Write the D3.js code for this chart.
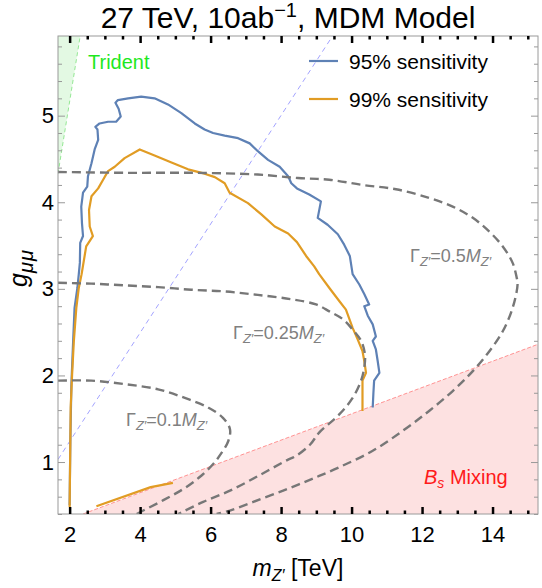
<!DOCTYPE html>
<html>
<head>
<meta charset="utf-8">
<script src="https://cdn.jsdelivr.net/npm/d3@7"></script>
<style>
  body { margin: 0; background: #fff; }
  svg { font-family: "Liberation Sans", Arial, sans-serif; }
</style>
</head>
<body>
<div id="chart"></div>
<script>
// tick values
const xMajorTicks = [2, 4, 6, 8, 10, 12, 14];
const yMajorTicks = [1, 2, 3, 4, 5];

// sensitivity contours [m_Z' (TeV), g_mumu]
const sens95 = [[2.00,0.50],[2.02,1.24],[2.05,1.90],[2.10,2.40],[2.14,2.78],[2.22,3.01],[2.26,3.17],[2.29,3.30],[2.30,3.53],[2.38,3.61],[2.35,3.76],[2.33,3.95],[2.38,4.11],[2.50,4.18],[2.52,4.30],[2.62,4.45],[2.71,4.61],[2.81,4.72],[2.79,4.84],[2.73,4.87],[2.85,4.91],[3.09,4.93],[3.32,4.93],[3.45,4.99],[3.39,5.08],[3.30,5.15],[3.37,5.18],[3.66,5.20],[4.03,5.22],[4.41,5.20],[4.79,5.13],[5.17,5.03],[5.55,4.91],[5.83,4.84],[6.07,4.80],[6.40,4.77],[6.78,4.74],[7.11,4.68],[7.34,4.59],[7.63,4.49],[7.96,4.41],[8.20,4.30],[8.29,4.22],[8.45,4.16],[8.80,4.09],[9.13,4.01],[9.04,3.82],[9.32,3.74],[9.61,3.63],[9.79,3.51],[9.95,3.38],[10.03,3.17],[10.22,3.05],[10.36,2.94],[10.50,2.82],[10.36,2.80],[10.46,2.69],[10.60,2.59],[10.69,2.45],[10.60,2.40],[10.69,2.30],[10.74,2.17],[10.79,2.03],[10.64,1.94],[10.62,1.80],[10.60,1.63]];
const sens99 = [[2.00,0.48],[2.03,1.63],[2.07,2.01],[2.12,2.40],[2.19,2.78],[2.26,3.01],[2.34,3.17],[2.47,3.49],[2.66,3.61],[2.57,3.72],[2.55,3.91],[2.62,4.07],[2.81,4.16],[2.95,4.26],[3.09,4.36],[3.28,4.41],[3.56,4.51],[3.99,4.61],[4.41,4.54],[4.89,4.46],[5.36,4.38],[5.83,4.33],[6.12,4.29],[6.40,4.22],[6.54,4.11],[7.06,3.99],[7.44,3.86],[7.82,3.72],[8.20,3.64],[8.45,3.54],[8.71,3.38],[8.94,3.26],[9.08,3.17],[9.37,3.01],[9.65,2.86],[9.84,2.76],[10.03,2.55],[10.17,2.42],[10.31,2.28],[10.36,2.17],[10.41,2.03],[10.31,1.94],[10.31,1.59]];
const sens99Tail = [[2.76,0.49],[4.30,0.71],[4.93,0.76]];

// width contours Gamma_Z' = k M_Z'
const width01 = [[1.67,1.94],[2.62,1.94],[3.56,1.90],[4.51,1.84],[5.27,1.74],[5.93,1.63],[6.35,1.51],[6.55,1.38],[6.50,1.24],[6.30,1.10],[6.08,0.98],[5.70,0.83],[5.23,0.69],[4.66,0.56],[4.09,0.44],[3.90,0.40]];
const width025 = [[1.67,3.07],[2.62,3.06],[3.56,3.04],[4.51,3.02],[5.45,2.99],[6.40,2.97],[7.34,2.93],[8.29,2.88],[8.99,2.82],[9.37,2.74],[9.75,2.65],[10.03,2.53],[10.27,2.40],[10.38,2.24],[10.36,2.09],[10.27,1.94],[10.03,1.74],[9.65,1.55],[9.08,1.34],[8.82,1.20],[8.42,1.07],[8.16,1.02],[7.40,0.85],[6.55,0.67],[5.79,0.54],[5.23,0.43],[5.08,0.40]];
const width05 = [[1.67,4.35],[3.56,4.34],[5.45,4.34],[7.34,4.32],[8.48,4.28],[9.37,4.26],[10.31,4.20],[11.26,4.15],[12.20,4.05],[12.87,3.95],[13.44,3.82],[13.91,3.66],[14.29,3.49],[14.57,3.30],[14.68,3.14],[14.71,3.05],[14.57,2.78],[14.29,2.51],[13.91,2.28],[13.44,2.05],[12.87,1.82],[12.20,1.59],[11.45,1.36],[10.60,1.13],[9.65,0.94],[8.85,0.80],[8.06,0.67],[7.21,0.54],[6.55,0.44],[6.17,0.40]];

// exclusion boundaries
const bsMixingEdge = [[2.38,0.40],[15.29,2.36]];
const tridentEdge = [[1.67,4.33],[2.30,5.92]];
const diagonalLine = [[1.67,1.03],[9.46,5.92]];

const width = 542, height = 588;
const plotLeft = 58, plotRight = 538, plotTop = 36, plotBottom = 514;

const svg = d3.select("#chart").append("svg")
    .attr("width", width)
    .attr("height", height);

const x = d3.scaleLinear().domain([1.67, 15.29]).range([plotLeft, plotRight]);
const y = d3.scaleLinear().domain([0.4, 5.92]).range([plotBottom, plotTop]);

svg.append("clipPath").attr("id", "plot-clip")
    .append("rect")
    .attr("x", plotLeft).attr("y", plotTop)
    .attr("width", plotRight - plotLeft).attr("height", plotBottom - plotTop);

const plot = svg.append("g").attr("clip-path", "url(#plot-clip)");

// Bs mixing region
plot.append("path")
    .datum(bsMixingEdge)
    .attr("d", d3.area().x(d => x(d[0])).y0(plotBottom).y1(d => y(d[1])))
    .attr("fill", "#fde1e1");
plot.append("path")
    .datum(bsMixingEdge)
    .attr("d", d3.line().x(d => x(d[0])).y(d => y(d[1])))
    .attr("fill", "none")
    .attr("stroke", "#ff7a7a")
    .attr("stroke-width", 0.8)
    .attr("stroke-dasharray", "4,2");

// Trident region
plot.append("path")
    .datum(tridentEdge)
    .attr("d", d3.area().y(d => y(d[1])).x0(plotLeft).x1(d => x(d[0])))
    .attr("fill", "#e3f9e3");
plot.append("path")
    .datum(tridentEdge)
    .attr("d", d3.line().x(d => x(d[0])).y(d => y(d[1])))
    .attr("fill", "none")
    .attr("stroke", "#7ee27e")
    .attr("stroke-width", 0.8)
    .attr("stroke-dasharray", "4,3");

// diagonal guide
plot.append("path")
    .datum(diagonalLine)
    .attr("d", d3.line().x(d => x(d[0])).y(d => y(d[1])))
    .attr("fill", "none")
    .attr("stroke", "#8c8cff")
    .attr("stroke-width", 0.8)
    .attr("stroke-dasharray", "5,4");

// sensitivity contours
const rough = d3.line().x(d => x(d[0])).y(d => y(d[1]));
[[sens95, "#5e81b5"], [sens99, "#e19c24"], [sens99Tail, "#e19c24"]].forEach(([data, color]) => {
    plot.append("path")
        .datum(data)
        .attr("d", rough)
        .attr("fill", "none")
        .attr("stroke", color)
        .attr("stroke-width", 2.2)
        .attr("stroke-linejoin", "round");
});

// width contours
const smooth = d3.line().x(d => x(d[0])).y(d => y(d[1])).curve(d3.curveCatmullRom);
[width01, width025, width05].forEach(data => {
    plot.append("path")
        .datum(data)
        .attr("d", smooth)
        .attr("fill", "none")
        .attr("stroke", "#777")
        .attr("stroke-width", 2.4)
        .attr("stroke-dasharray", "9,5");
});

// frame
svg.append("rect")
    .attr("x", plotLeft).attr("y", plotTop)
    .attr("width", plotRight - plotLeft).attr("height", plotBottom - plotTop)
    .attr("fill", "none")
    .attr("stroke", "#9a9a9a")
    .attr("stroke-width", 1);

const xMinor = d3.range(2, 15.3, 0.5).filter(v => v % 2 !== 0);
const yMinor = d3.range(0.4, 5.9, 0.2).map(v => +v.toFixed(1)).filter(v => v % 1 !== 0);

function styleAxis(g, color, widthPx, fontSize) {
    g.select(".domain").remove();
    g.selectAll(".tick line").attr("stroke", color).attr("stroke-width", widthPx);
    g.selectAll(".tick text")
        .attr("fill", "#000")
        .style("font-size", fontSize + "px")
        .style("font-family", "'Liberation Sans', Arial, sans-serif");
}

// bottom / top axes (black ticks)
svg.append("g").attr("transform", `translate(0,${plotBottom})`)
    .call(d3.axisBottom(x).tickValues(xMajorTicks).tickSize(-7).tickPadding(12).tickFormat(d3.format("d")))
    .call(g => styleAxis(g, "#000", 2.5, 22));
svg.append("g").attr("transform", `translate(0,${plotBottom})`)
    .call(d3.axisBottom(x).tickValues(xMinor).tickSize(-3.5).tickFormat(""))
    .call(g => styleAxis(g, "#000", 2.5, 22));
svg.append("g").attr("transform", `translate(0,${plotTop})`)
    .call(d3.axisTop(x).tickValues(xMajorTicks).tickSize(-7).tickFormat(""))
    .call(g => styleAxis(g, "#000", 2.5, 22));
svg.append("g").attr("transform", `translate(0,${plotTop})`)
    .call(d3.axisTop(x).tickValues(xMinor).tickSize(-3.5).tickFormat(""))
    .call(g => styleAxis(g, "#000", 2.5, 22));

// left / right axes (grey ticks)
svg.append("g").attr("transform", `translate(${plotLeft},0)`)
    .call(d3.axisLeft(y).tickValues(yMajorTicks).tickSize(-7).tickPadding(4).tickFormat(d3.format("d")))
    .call(g => styleAxis(g, "#999", 1, 22));
svg.append("g").attr("transform", `translate(${plotLeft},0)`)
    .call(d3.axisLeft(y).tickValues(yMinor).tickSize(-4).tickFormat(""))
    .call(g => styleAxis(g, "#999", 1, 22));
svg.append("g").attr("transform", `translate(${plotRight},0)`)
    .call(d3.axisRight(y).tickValues(yMajorTicks).tickSize(-7).tickFormat(""))
    .call(g => styleAxis(g, "#999", 1, 22));
svg.append("g").attr("transform", `translate(${plotRight},0)`)
    .call(d3.axisRight(y).tickValues(yMinor).tickSize(-4).tickFormat(""))
    .call(g => styleAxis(g, "#999", 1, 22));

// title
const title = svg.append("text")
    .attr("x", 288).attr("y", 28)
    .attr("text-anchor", "middle")
    .style("font-size", "30px");
title.append("tspan").text("27 TeV, 10ab");
title.append("tspan").attr("dy", -11).style("font-size", "20px").text("\u22121");
title.append("tspan").attr("dy", 11).text(", MDM Model");

// axis labels
const xLabel = svg.append("text")
    .attr("x", 298).attr("y", 576)
    .attr("text-anchor", "middle")
    .style("font-size", "23px");
xLabel.append("tspan").style("font-style", "italic").text("m");
xLabel.append("tspan").attr("dy", 5).style("font-size", "16px").style("font-style", "italic").text("Z\u2032");
xLabel.append("tspan").attr("dy", -5).text(" [TeV]");

const yLabel = svg.append("text")
    .attr("transform", "translate(27,268) rotate(-90)")
    .attr("text-anchor", "middle")
    .style("font-size", "25px");
yLabel.append("tspan").style("font-style", "italic").text("g");
yLabel.append("tspan").attr("dy", 6).style("font-size", "20px").style("font-style", "italic")
    .style("letter-spacing", "1px").text("\u03bc\u03bc");

// legend
const legend = [["95% sensitivity", "#5e81b5", 61], ["99% sensitivity", "#e19c24", 99]];
legend.forEach(([label, color, ly]) => {
    svg.append("line")
        .attr("x1", 309).attr("x2", 338)
        .attr("y1", ly).attr("y2", ly)
        .attr("stroke", color).attr("stroke-width", 2.2);
    svg.append("text")
        .attr("x", 349).attr("y", ly + 8)
        .style("font-size", "21px")
        .text(label);
});

// region labels
svg.append("text")
    .attr("x", 88).attr("y", 69)
    .attr("fill", "#1ee81e")
    .style("font-size", "20px")
    .text("Trident");

const bs = svg.append("text")
    .attr("x", 424).attr("y", 484)
    .attr("fill", "#ff1a1a")
    .style("font-size", "20px");
bs.append("tspan").style("font-style", "italic").text("B");
bs.append("tspan").attr("dy", 4).style("font-size", "14px").style("font-style", "italic").text("s");
bs.append("tspan").attr("dy", -4).text(" Mixing");

// width labels
function widthLabel(lx, ly, k) {
    const t = svg.append("text")
        .attr("x", lx).attr("y", ly)
        .attr("fill", "#808080")
        .style("font-size", "18px");
    t.append("tspan").text("\u0393");
    t.append("tspan").attr("dy", 4).style("font-size", "13px").style("font-style", "italic").text("Z\u2032");
    t.append("tspan").attr("dy", -4).text("=" + k);
    t.append("tspan").style("font-style", "italic").text("M");
    t.append("tspan").attr("dy", 4).style("font-size", "13px").style("font-style", "italic").text("Z\u2032");
}
widthLabel(126, 426, "0.1");
widthLabel(233, 339, "0.25");
widthLabel(410, 262, "0.5");
</script>
</body>
</html>
